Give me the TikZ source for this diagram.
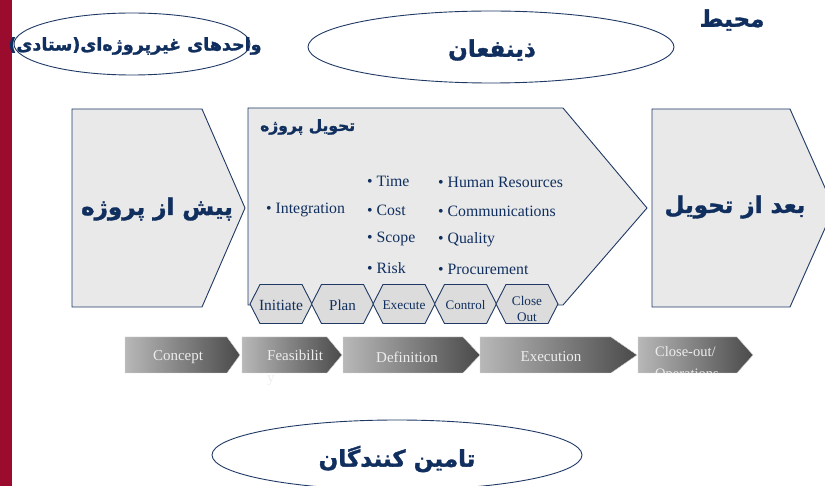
\documentclass[tikz,border=0pt]{standalone}
\usepackage{fontspec}
\setmainfont{Liberation Serif}
\newfontfamily\fa[Script=Arabic,BoldFeatures={FakeBold=1.5}]{DejaVu Sans}
\TeXXeTstate=1
\definecolor{navy}{HTML}{1F3864}
\definecolor{txtnavy}{HTML}{102F5E}
\definecolor{pfill}{HTML}{E9E9E9}
\definecolor{hfill}{HTML}{DCDCDC}
\definecolor{barred}{HTML}{9B0B2D}
\definecolor{chevL}{HTML}{B8B8B8}
\definecolor{chevR}{HTML}{4A4A4A}
\begin{document}
\begin{tikzpicture}[x=1pt,y=-1pt,
  shapeline/.style={draw=navy,line width=0.9pt,fill=pfill},
  ovalline/.style={draw=navy,line width=0.9pt},
  fatext/.style={text=txtnavy,font=\fa\bfseries\fontsize{23}{27}\selectfont,inner sep=0pt},
  bul/.style={text=txtnavy,font=\fontsize{15.8}{18}\selectfont,anchor=west,inner sep=0pt},
  hexline/.style={draw=navy,line width=0.9pt,fill=hfill},
  hextext/.style={text=txtnavy,align=center,inner sep=0pt},
  chev/.style={left color=chevL,right color=chevR,draw=white!85!black,line width=0.4pt},
  chevtext/.style={text=white!93!black,font=\fontsize{15}{17}\selectfont,align=left,inner sep=0pt}
]
\useasboundingbox (0,0) rectangle (825,486);
\fill[barred] (0,0) rectangle (12,486);

% top ovals
\draw[ovalline] (132,44) ellipse [x radius=118, y radius=31];
\node[fatext,font=\fa\bfseries\fontsize{17.5}{21}\selectfont] (staff) at (135,46) {\beginR واحدهای غیرپروژه‌ای(ستادی)\endR};
\draw[ovalline] (491,47) ellipse [x radius=183, y radius=36];
\node[fatext] (stake) at (492,50) {\beginR ذینفعان\endR};
\node[fatext] (env) at (732,20) {\beginR محیط\endR};

% pentagons
\draw[shapeline] (72,109) -- (202,109) -- (245,208) -- (202,307) -- (72,307) -- cycle;
\node[fatext] (pre) at (157,209) {\beginR پیش از پروژه\endR};
\draw[shapeline] (248,108) -- (563,108) -- (647,208) -- (563,305) -- (248,305) -- cycle;
\node[fatext,font=\fa\bfseries\fontsize{15.5}{18}\selectfont,anchor=west] (deliv) at (260,127) {\beginR تحویل پروژه\endR};
\draw[shapeline] (652,109) -- (790,109) -- (834,208) -- (790,307) -- (652,307) -- cycle;
\node[fatext] (post) at (735,207) {\beginR بعد از تحویل\endR};

% bullets
\node[bul] (b1) at (266,210) {• Integration};
\node[bul] (b2) at (367,181) {• Time};
\node[bul] (b3) at (367,210) {• Cost};
\node[bul] (b4) at (367,239) {• Scope};
\node[bul] (b5) at (367,268) {• Risk};
\node[bul] (b6) at (438,182) {• Human Resources};
\node[bul] (b7) at (438,211) {• Communications};
\node[bul] (b8) at (438,240) {• Quality};
\node[bul] (b9) at (438,269) {• Procurement};

% hexagons
\foreach \cx/\nm/\fs/\ty/\lab in {281/h1/15.5/305/{Initiate},342.5/h2/15/305/{Plan},404/h3/13.3/305/{Execute},465.5/h4/13/305/{Control},527/h5/13.2/309/{Close\\Out}}{
  \draw[hexline] (\cx-31,304) -- (\cx-21,284.5) -- (\cx+21,284.5) -- (\cx+31,304) -- (\cx+21,323.5) -- (\cx-21,323.5) -- cycle;
  \node[hextext,font=\fontsize{\fs}{16}\selectfont] (\nm) at (\cx,\ty) {\lab};
}

% bottom chevrons
\path[chev] (125,337) -- (227,337) -- (240,355) -- (227,373) -- (125,373) -- cycle;
\node[chevtext] (c1) at (178,357) {Concept};
\path[chev] (242,337) -- (327,337) -- (342,355) -- (327,373) -- (242,373) -- cycle;
\node[chevtext,anchor=north west,font=\fontsize{15}{22}\selectfont] (c2) at (267,350) {Feasibilit\\y};
\path[chev] (343,337) -- (463,337) -- (480,355) -- (463,373) -- (343,373) -- cycle;
\node[chevtext] (c3) at (407,357) {Definition};
\path[chev] (480,337) -- (611,337) -- (637,355) -- (611,373) -- (480,373) -- cycle;
\node[chevtext] (c4) at (551,357) {Execution};
\path[chev] (638,337) -- (737,337) -- (753,355) -- (737,373) -- (638,373) -- cycle;
\begin{scope}
\clip (638,337) -- (737,337) -- (753,355) -- (737,373) -- (638,373) -- cycle;
\node[chevtext,anchor=north west,font=\fontsize{14.5}{22}\selectfont] (c5) at (655,346) {Close-out/\\Operations};
\end{scope}

% bottom oval
\draw[ovalline] (397,455) ellipse [x radius=185, y radius=35];
\node[fatext] (supp) at (397,459) {\beginR تامین کنندگان\endR};
\end{tikzpicture}
\end{document}
